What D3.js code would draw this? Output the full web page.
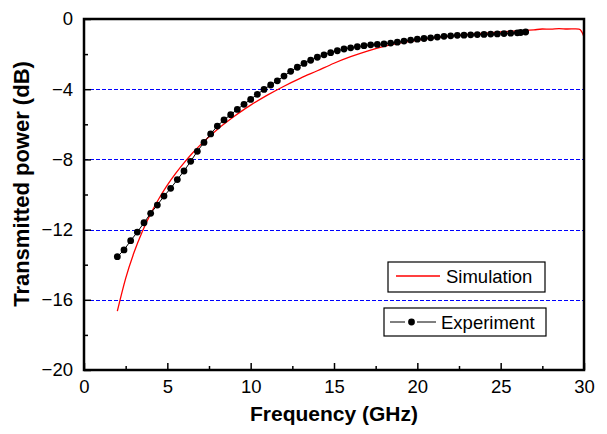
<!DOCTYPE html>
<html>
<head>
<meta charset="utf-8">
<script src="https://cdn.jsdelivr.net/npm/d3@7"></script>
<style>
  body { margin: 0; background: #fff; }
  svg { display: block; font-family: "Liberation Sans", Arial, sans-serif; }
</style>
</head>
<body>
<div id="chart"></div>
<script>
// measured transmission, dots every 0.4 GHz
const expFreq = [2.0, 2.4, 2.8, 3.2, 3.6, 4.0, 4.4, 4.8, 5.2, 5.6,
  6.0, 6.4, 6.8, 7.2, 7.6, 8.0, 8.4, 8.8, 9.2, 9.6,
  10.0, 10.4, 10.8, 11.2, 11.6, 12.0, 12.4, 12.8, 13.2, 13.6,
  14.0, 14.4, 14.8, 15.2, 15.6, 16.0, 16.4, 16.8, 17.2, 17.6,
  18.0, 18.4, 18.8, 19.2, 19.6, 20.0, 20.4, 20.8, 21.2, 21.6,
  22.0, 22.4, 22.8, 23.2, 23.6, 24.0, 24.4, 24.8, 25.2, 25.6,
  26.0, 26.2, 26.5];
const expPower = [-13.54, -13.16, -12.63, -12.14, -11.61, -11.07, -10.60, -10.09, -9.65, -9.15,
  -8.66, -8.11, -7.54, -7.03, -6.55, -6.10, -5.75, -5.45, -5.15, -4.86,
  -4.58, -4.29, -4.01, -3.76, -3.52, -3.25, -2.98, -2.75, -2.53, -2.35,
  -2.18, -2.04, -1.92, -1.81, -1.71, -1.64, -1.58, -1.52, -1.47, -1.45,
  -1.42, -1.37, -1.32, -1.26, -1.20, -1.15, -1.11, -1.07, -1.03, -0.99,
  -0.96, -0.93, -0.92, -0.90, -0.89, -0.88, -0.86, -0.85, -0.83, -0.81,
  -0.79, -0.77, -0.74];

// simulated curve
const simFreq = [2.0, 2.5, 3.0, 3.5, 4.0, 4.5, 5.0, 5.5, 6.0, 6.5,
  7.0, 7.5, 8.0, 8.5, 9.0, 9.5, 10.0, 11.0, 12.0, 13.0,
  14.0, 15.0, 16.0, 17.0, 18.0, 19.0, 20.0, 21.0, 22.0, 23.0,
  24.0, 25.0, 26.0, 27.0, 27.5, 28.0, 28.5, 29.0, 29.5, 29.7,
  29.85, 29.95, 30.0];
const simPower = [-16.65, -14.78, -13.31, -12.11, -11.10, -10.23, -9.47, -8.80, -8.20, -7.65,
  -7.16, -6.71, -6.29, -5.91, -5.55, -5.22, -4.91, -4.34, -3.83, -3.37,
  -2.95, -2.52, -2.15, -1.83, -1.56, -1.36, -1.21, -1.08, -0.97, -0.88,
  -0.80, -0.74, -0.68, -0.62, -0.57, -0.58, -0.55, -0.57, -0.56, -0.58,
  -0.7, -0.9, -1.05];

const xTicks = [0, 5, 10, 15, 20, 25, 30];
const xMinor = [2.5, 7.5, 12.5, 17.5, 22.5, 27.5];
const yTicks = [0, -4, -8, -12, -16, -20];
const yMinor = [-2, -6, -10, -14, -18];
const gridLevels = [-4, -8, -12, -16];
const legendLabels = ["Simulation", "Experiment"];

const width = 607, height = 434;
const margin = { top: 19, right: 23, bottom: 64, left: 84 };

const svg = d3.select("#chart")
  .append("svg")
    .attr("width", width)
    .attr("height", height);

const x = d3.scaleLinear().domain([0, 30]).range([margin.left, width - margin.right]);
const y = d3.scaleLinear().domain([-20, 0]).range([height - margin.bottom, margin.top]);

// dashed blue reference lines
svg.append("g")
  .selectAll("line")
  .data(gridLevels)
  .enter()
  .append("line")
    .attr("x1", x(0))
    .attr("x2", x(30))
    .attr("y1", d => Math.round(y(d)) + 0.5)
    .attr("y2", d => Math.round(y(d)) + 0.5)
    .style("stroke", "#0000ff")
    .style("stroke-width", 1)
    .style("stroke-dasharray", "4,2");

// axes, ticks pointing in
svg.append("g")
  .attr("transform", `translate(0,${y(-20)})`)
  .call(d3.axisBottom(x).tickValues(xTicks).tickSize(-7).tickPadding(10));
svg.append("g")
  .attr("transform", `translate(0,${y(-20)})`)
  .call(d3.axisBottom(x).tickValues(xMinor).tickSize(-4).tickFormat(""));

svg.append("g")
  .attr("transform", `translate(${x(0)},0)`)
  .call(d3.axisLeft(y).tickValues(yTicks).tickSize(-7).tickPadding(11));
svg.append("g")
  .attr("transform", `translate(${x(0)},0)`)
  .call(d3.axisLeft(y).tickValues(yMinor).tickSize(-4).tickFormat(""));

svg.selectAll(".domain").remove();
svg.selectAll(".tick line").style("stroke", "#000").style("stroke-width", 1.5);
svg.selectAll(".tick text")
  .style("font-size", "18.5px")
  .style("fill", "#000")
  .style("font-family", '"Liberation Sans", Arial, sans-serif');

// simulation line
svg.append("path")
  .datum(simFreq.map((f, i) => [f, simPower[i]]))
  .attr("d", d3.line().x(d => x(d[0])).y(d => y(d[1])).curve(d3.curveMonotoneX))
  .style("fill", "none")
  .style("stroke", "#ff0000")
  .style("stroke-width", 1.3);

// experiment line + dots
const expData = expFreq.map((f, i) => [f, expPower[i]]);
svg.append("path")
  .datum(expData)
  .attr("d", d3.line().x(d => x(d[0])).y(d => y(d[1])))
  .style("fill", "none")
  .style("stroke", "#000")
  .style("stroke-width", 1);

svg.append("g")
  .selectAll("circle")
  .data(expData)
  .enter()
  .append("circle")
    .attr("cx", d => x(d[0]))
    .attr("cy", d => y(d[1]))
    .attr("r", 3.4)
    .style("fill", "#000");

// frame
svg.append("rect")
  .attr("x", x(0))
  .attr("y", y(0))
  .attr("width", x(30) - x(0))
  .attr("height", y(-20) - y(0))
  .style("fill", "none")
  .style("stroke", "#000")
  .style("stroke-width", 2.5);

// axis titles
svg.append("text")
  .attr("x", 334)
  .attr("y", 421)
  .attr("text-anchor", "middle")
  .style("font-size", "21px")
  .style("font-weight", "bold")
  .text("Frequency (GHz)");

svg.append("text")
  .attr("transform", "translate(29,184) rotate(-90)")
  .attr("text-anchor", "middle")
  .style("font-size", "22px")
  .style("font-weight", "bold")
  .text("Transmitted power (dB)");

// legend boxes
const legend = svg.append("g");
legend.append("rect")
  .attr("x", 388).attr("y", 262).attr("width", 157).attr("height", 30)
  .style("fill", "#fff").style("stroke", "#000").style("stroke-width", 1.2);
legend.append("line")
  .attr("x1", 396).attr("x2", 440).attr("y1", 276).attr("y2", 276)
  .style("stroke", "#ff0000").style("stroke-width", 1.3);
legend.append("text")
  .attr("x", 446).attr("y", 283)
  .style("font-size", "18.5px")
  .text(legendLabels[0]);

legend.append("rect")
  .attr("x", 384).attr("y", 308).attr("width", 162).attr("height", 28)
  .style("fill", "#fff").style("stroke", "#000").style("stroke-width", 1.2);
legend.append("line")
  .attr("x1", 390).attr("x2", 405).attr("y1", 322).attr("y2", 322)
  .style("stroke", "#000").style("stroke-width", 1);
legend.append("line")
  .attr("x1", 417).attr("x2", 436).attr("y1", 322).attr("y2", 322)
  .style("stroke", "#000").style("stroke-width", 1);
legend.append("circle")
  .attr("cx", 411.5).attr("cy", 322).attr("r", 3.4)
  .style("fill", "#000");
legend.append("text")
  .attr("x", 441).attr("y", 329)
  .style("font-size", "18.5px")
  .text(legendLabels[1]);
</script>
</body>
</html>
